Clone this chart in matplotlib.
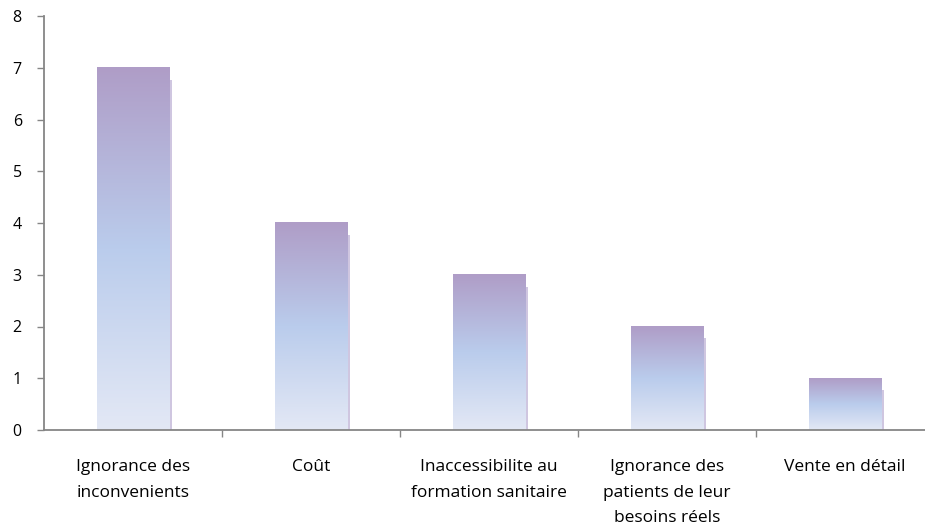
import numpy as np
import matplotlib
matplotlib.use('Agg')
import matplotlib.pyplot as plt
from matplotlib.colors import LinearSegmentedColormap
from matplotlib.patches import Rectangle

categories = ['Ignorance des\ninconvenients', 'Coût', 'Inaccessibilite au\nformation sanitaire',
              'Ignorance des\npatients de leur\nbesoins réels', 'Vente en détail']
values = [7, 4, 3, 2, 1]

plt.rcParams['font.family'] = ['Open Sans', 'DejaVu Sans']

fig = plt.figure(figsize=(9.25, 5.28), dpi=100)
# slot of 178 px per category; the axis runs a bit past the right edge, as in the original
ax = fig.add_axes([44 / 925, 1 - 430 / 528, 890 / 925, 414 / 528])

# gradient from light (bottom) to purple (top)
cmap = LinearSegmentedColormap.from_list('bar', [(0.0, '#E3E8F5'), (0.5, '#BACCEC'), (1.0, '#AF9DC7')])
grad = np.linspace(0, 1, 256).reshape(-1, 1)

width = 0.41
for i, v in enumerate(values):
    x0 = i - width / 2
    # thin shadow on the right side
    ax.add_patch(Rectangle((x0 + width, 0), 0.012, v - 0.23, color='#CFC6E0', lw=0, zorder=1))
    ax.imshow(grad, cmap=cmap, origin='lower', aspect='auto',
              extent=[x0, x0 + width, 0, v], zorder=2, interpolation='bilinear')

ax.set_xlim(-0.5, len(values) - 0.5)
ax.set_ylim(0, 8)

ax.spines['top'].set_visible(False)
ax.spines['right'].set_visible(False)
for s in ['left', 'bottom']:
    ax.spines[s].set_color('#868686')
    ax.spines[s].set_linewidth(1.3)

ax.set_yticks(range(0, 9))
ax.tick_params(axis='y', colors='#868686', length=5, width=1, labelcolor='black', labelsize=11.5, pad=11)

# x ticks at category boundaries, labels centered on bars
ax.set_xticks(np.arange(0.5, len(values) - 0.5), minor=False)
ax.set_xticklabels([])
ax.tick_params(axis='x', which='major', colors='#868686', length=5, width=1)
ax.set_xticks(np.arange(len(values)), minor=True)
ax.set_xticklabels(categories, minor=True)
ax.tick_params(axis='x', which='minor', length=0, labelsize=12.5, pad=21, labelcolor='black')
for lbl in ax.get_xticklabels(minor=True):
    lbl.set_linespacing(1.8)

fig.savefig('out.png', dpi=100)
